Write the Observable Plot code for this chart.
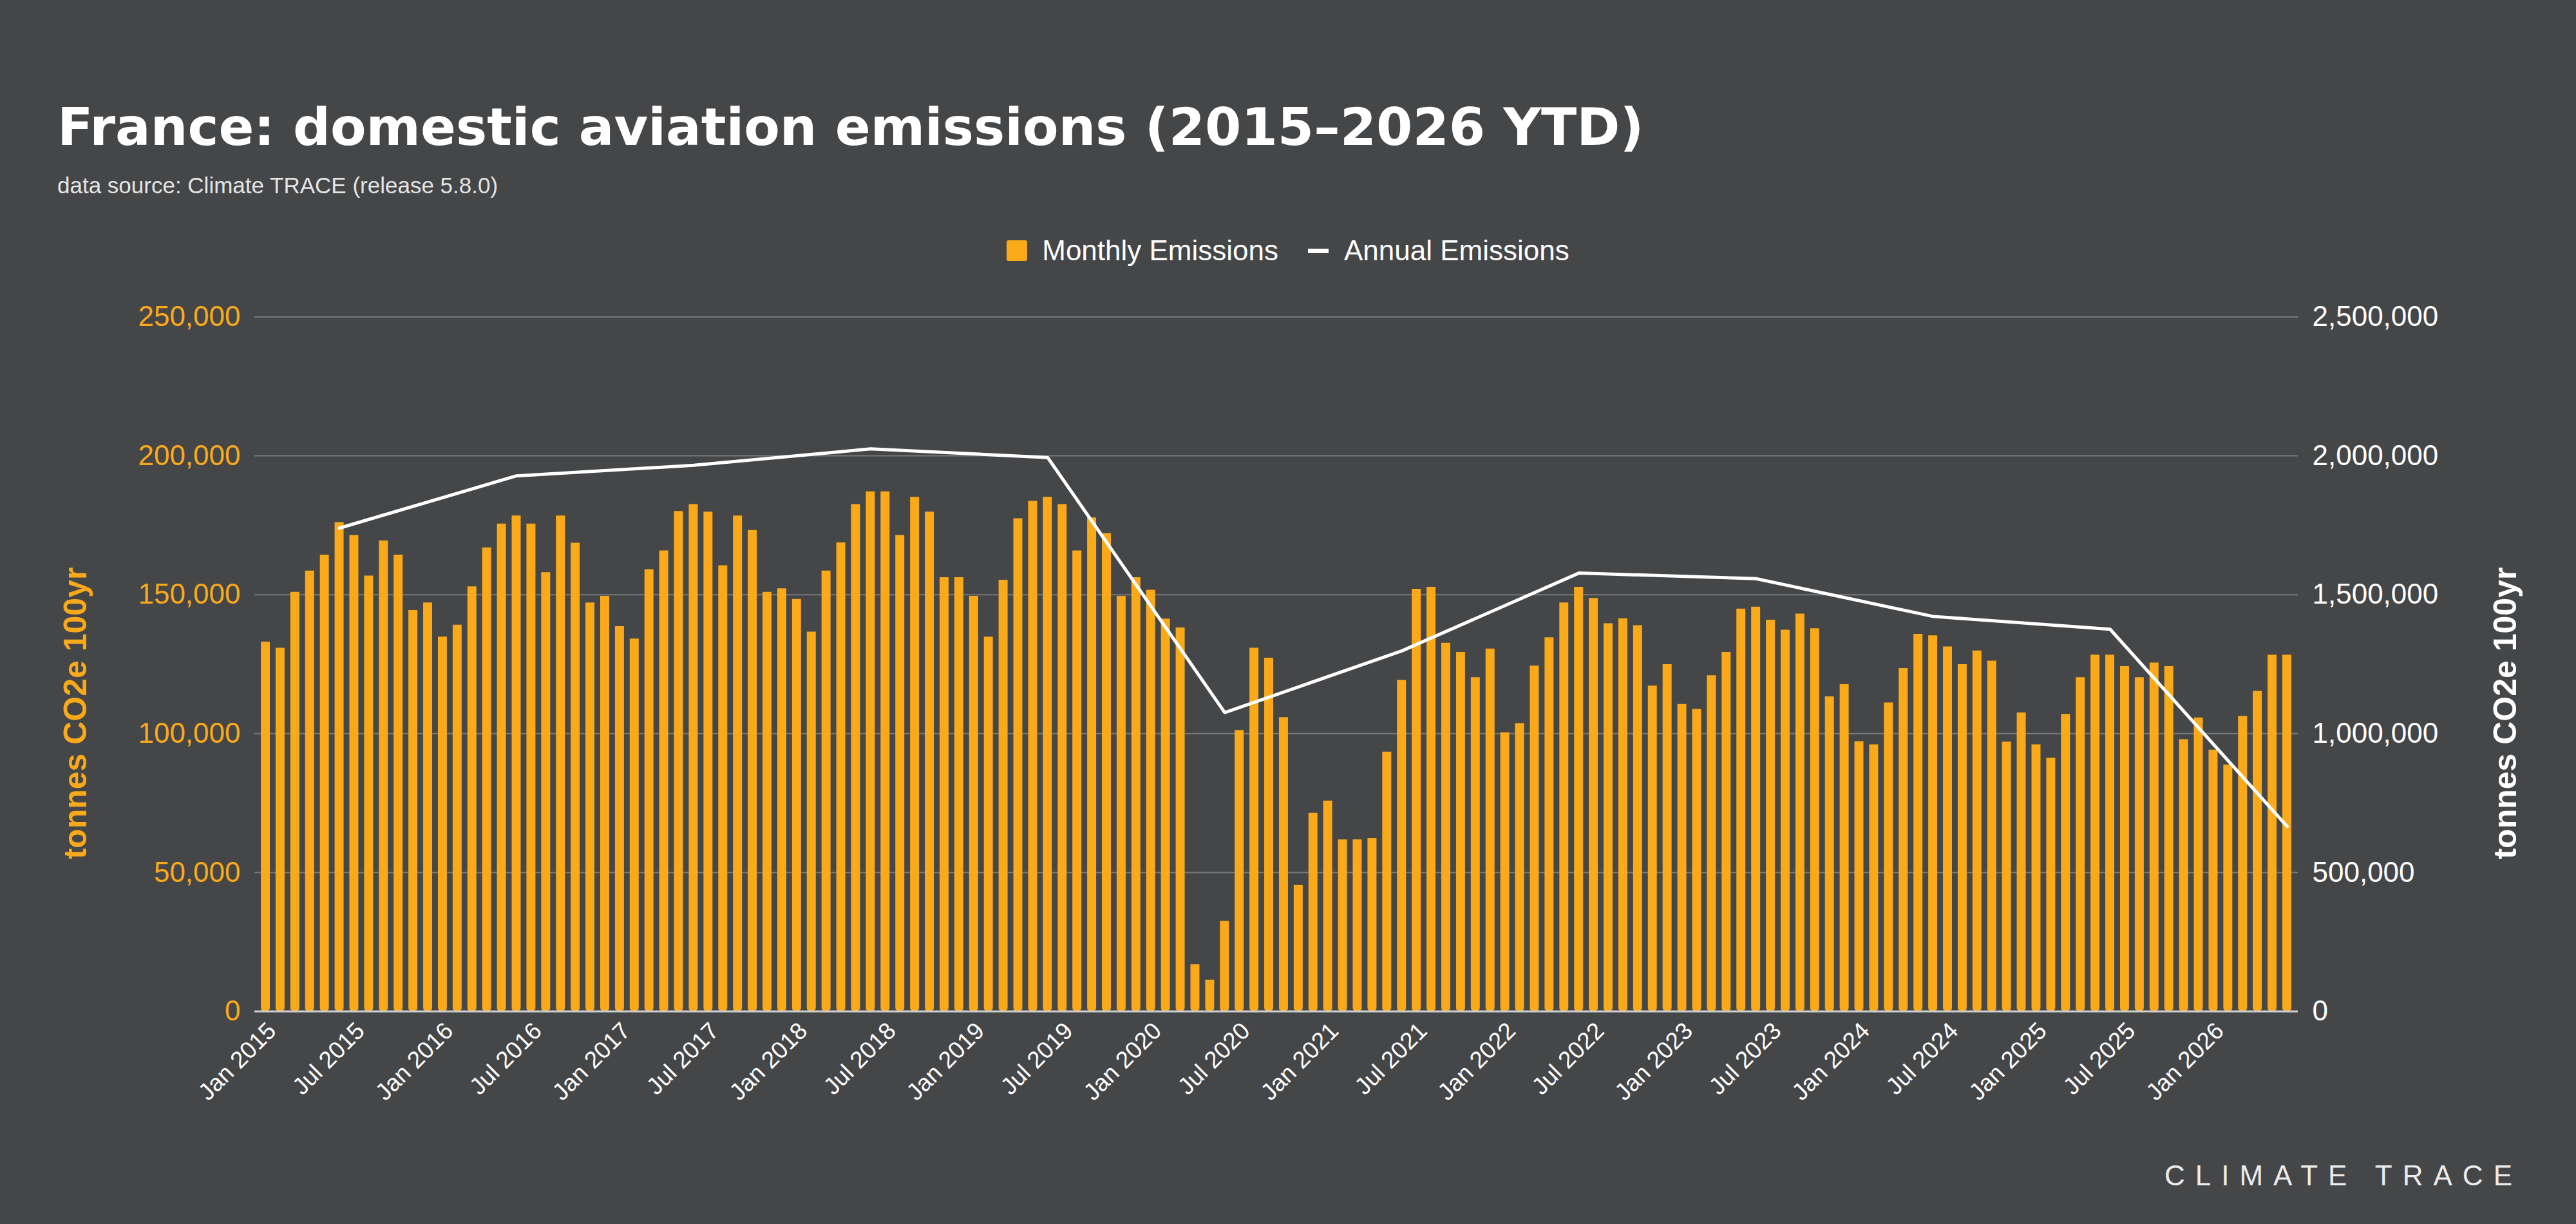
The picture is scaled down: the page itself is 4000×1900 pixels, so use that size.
<!DOCTYPE html>
<html>
<head>
<meta charset="utf-8">
<script src="https://cdn.jsdelivr.net/npm/d3@7"></script>
<script src="https://cdn.jsdelivr.net/npm/@observablehq/plot@0.6"></script>
<style>
  html, body { margin: 0; padding: 0; background: #454648; }
  #page {
    position: relative; width: 4000px; height: 1900px; overflow: hidden;
    background: #454648; font-family: "Liberation Sans", Arial, Helvetica, sans-serif; color: #fff;
  }
  #title {
    position: absolute; left: 89px; top: 157px; margin: 0;
    font-family: "DejaVu Sans", "Liberation Sans", sans-serif; font-weight: bold;
    font-size: 81px; line-height: 1; color: #fff; white-space: nowrap;
  }
  #subtitle {
    position: absolute; left: 89px; top: 270px; margin: 0;
    font-size: 35px; line-height: 1; color: #e4e4e4; white-space: nowrap;
  }
  #legend {
    position: absolute; left: 0; top: 362px; width: 4000px; height: 54px;
    display: flex; justify-content: center; align-items: center;
    font-size: 44px; color: #fff; white-space: nowrap;
  }
  #legend .swatch { width: 32px; height: 32px; border-radius: 3px; background: #FAAA19; margin-right: 23px; }
  #legend .dash { width: 32px; height: 7px; background: #fff; margin-left: 46px; margin-right: 24px; }
  #chart { position: absolute; left: 0; top: 440px; }
  #brand {
    position: absolute; left: 3361px; top: 1803px; margin: 0;
    font-size: 44px; line-height: 1; letter-spacing: 16px; color: #ececec; white-space: nowrap;
  }
</style>
</head>
<body>
<div id="page">
  <h1 id="title">France: domestic aviation emissions (2015–2026 YTD)</h1>
  <p id="subtitle">data source: Climate TRACE (release 5.8.0)</p>
  <div id="legend">
    <span class="swatch"></span><span>Monthly Emissions</span>
    <span class="dash"></span><span>Annual Emissions</span>
  </div>
  <div id="chart"></div>
  <p id="brand">CLIMATE TRACE</p>
</div>
<script>
// Monthly domestic aviation emissions, tonnes CO2e (100yr GWP), Jan 2015 – Jun 2026
const monthly2015 = [133000, 130800, 150900, 158600, 164300, 176000, 171400, 156800, 169400, 164300, 144400, 147100];
const monthly2016 = [134800, 139100, 152900, 166900, 175500, 178400, 175500, 158000, 178400, 168600, 147100, 149500];
const monthly2017 = [138600, 134100, 159100, 165800, 180000, 182500, 179800, 160500, 178400, 173200, 150900, 152200];
const monthly2018 = [148400, 136600, 158600, 168700, 182500, 187100, 187100, 171400, 185100, 179800, 156200, 156200];
const monthly2019 = [149500, 134800, 155300, 177400, 183700, 185100, 182500, 165800, 177700, 172100, 149500, 156200];
const monthly2020 = [151700, 141300, 138100, 16900, 11300, 32500, 101200, 130800, 127200, 105800, 45400, 71400];
const monthly2021 = [75800, 61800, 61800, 62300, 93400, 119200, 152000, 152700, 132600, 129300, 120200, 130500];
const monthly2022 = [100400, 103700, 124400, 134600, 147100, 152700, 148700, 139600, 141400, 138900, 117200, 124900];
const monthly2023 = [110600, 108800, 120900, 129300, 144900, 145600, 140900, 137300, 143100, 137800, 113300, 117700];
const monthly2024 = [97200, 96000, 111100, 123500, 135800, 135300, 131300, 124900, 129800, 126200, 97000, 107500];
const monthly2025 = [96000, 91200, 107000, 120200, 128300, 128300, 124200, 120200, 125500, 124200, 97900, 105700];
const monthly2026 = [94100, 88800, 106300, 115300, 128300, 128300];

// Annual totals (2026 is year to date), plotted at mid-year
const annualYears = [2015, 2016, 2017, 2018, 2019, 2020, 2021, 2022, 2023, 2024, 2025, 2026];
const annualValues = [1740000, 1928000, 1966000, 2025000, 1994000, 1076000, 1298000, 1578000, 1558000, 1422000, 1376000, 666000];

// Axis ticks
const leftTicks = [0, 50000, 100000, 150000, 200000, 250000];
const rightToLeft = 10; // right axis (annual) is ten times the left axis (monthly)
const monthLabelFormat = "%b %Y";
const axisTitle = "tonnes CO2e 100yr";

const monthlyValues = [].concat(monthly2015, monthly2016, monthly2017, monthly2018, monthly2019, monthly2020,
  monthly2021, monthly2022, monthly2023, monthly2024, monthly2025, monthly2026);
const months = d3.utcMonth.range(new Date(Date.UTC(2015, 0, 1)), new Date(Date.UTC(2026, 6, 1)));
const monthly = months.map((date, i) => ({date, value: monthlyValues[i]}));
const annual = annualYears.map((year, i) => ({date: new Date(Date.UTC(year, 5, 1)), value: annualValues[i]}));
const labelMonths = months.filter(d => d.getUTCMonth() % 6 === 0);

const orange = "#FAAA19";
const fmt = d3.format(",");

const chart = Plot.plot({
  width: 4000,
  height: 1360,
  marginLeft: 395,
  marginRight: 432,
  marginTop: 51.5,
  marginBottom: 230.4,
  style: {background: "transparent", color: "#fff", fontFamily: "'Liberation Sans', Arial, sans-serif", fontSize: "44px", overflow: "visible"},
  x: {type: "band", domain: months, paddingInner: 0.39, paddingOuter: 0.437},
  y: {domain: [0, 250000]},
  marks: [
    Plot.gridY(leftTicks, {stroke: "#77787b", strokeOpacity: 1, strokeWidth: 2}),
    Plot.barY(monthly, {x: "date", y: "value", fill: orange, ry2: 5}),
    Plot.ruleY([0], {stroke: "#cfcfcf", strokeWidth: 3}),
    Plot.line(annual, {x: "date", y: d => d.value / rightToLeft, stroke: "#fff", strokeWidth: 5, strokeLinejoin: "miter"}),
    Plot.axisY(leftTicks, {anchor: "left", tickSize: 0, tickPadding: 22, tickFormat: fmt, color: orange, fontSize: 44, label: null}),
    Plot.axisY(leftTicks, {anchor: "right", tickSize: 0, tickPadding: 22, tickFormat: d => fmt(d * rightToLeft), color: "#fff", fontSize: 44, label: null}),
    Plot.axisX(labelMonths, {anchor: "bottom", tickSize: 0, tickPadding: 24, dx: 10, tickRotate: -45, tickFormat: d3.utcFormat(monthLabelFormat), color: "#fff", fontSize: 37, label: null}),
    Plot.text([axisTitle], {frameAnchor: "left", textAnchor: "middle", dx: -278, dy: 76, rotate: -90, fill: orange, fontSize: 50, fontWeight: "bold"}),
    Plot.text([axisTitle], {frameAnchor: "right", textAnchor: "middle", dx: 322, dy: 76, rotate: -90, fill: "#fff", fontSize: 50, fontWeight: "bold"})
  ]
});
document.getElementById("chart").appendChild(chart);
</script>
</body>
</html>
